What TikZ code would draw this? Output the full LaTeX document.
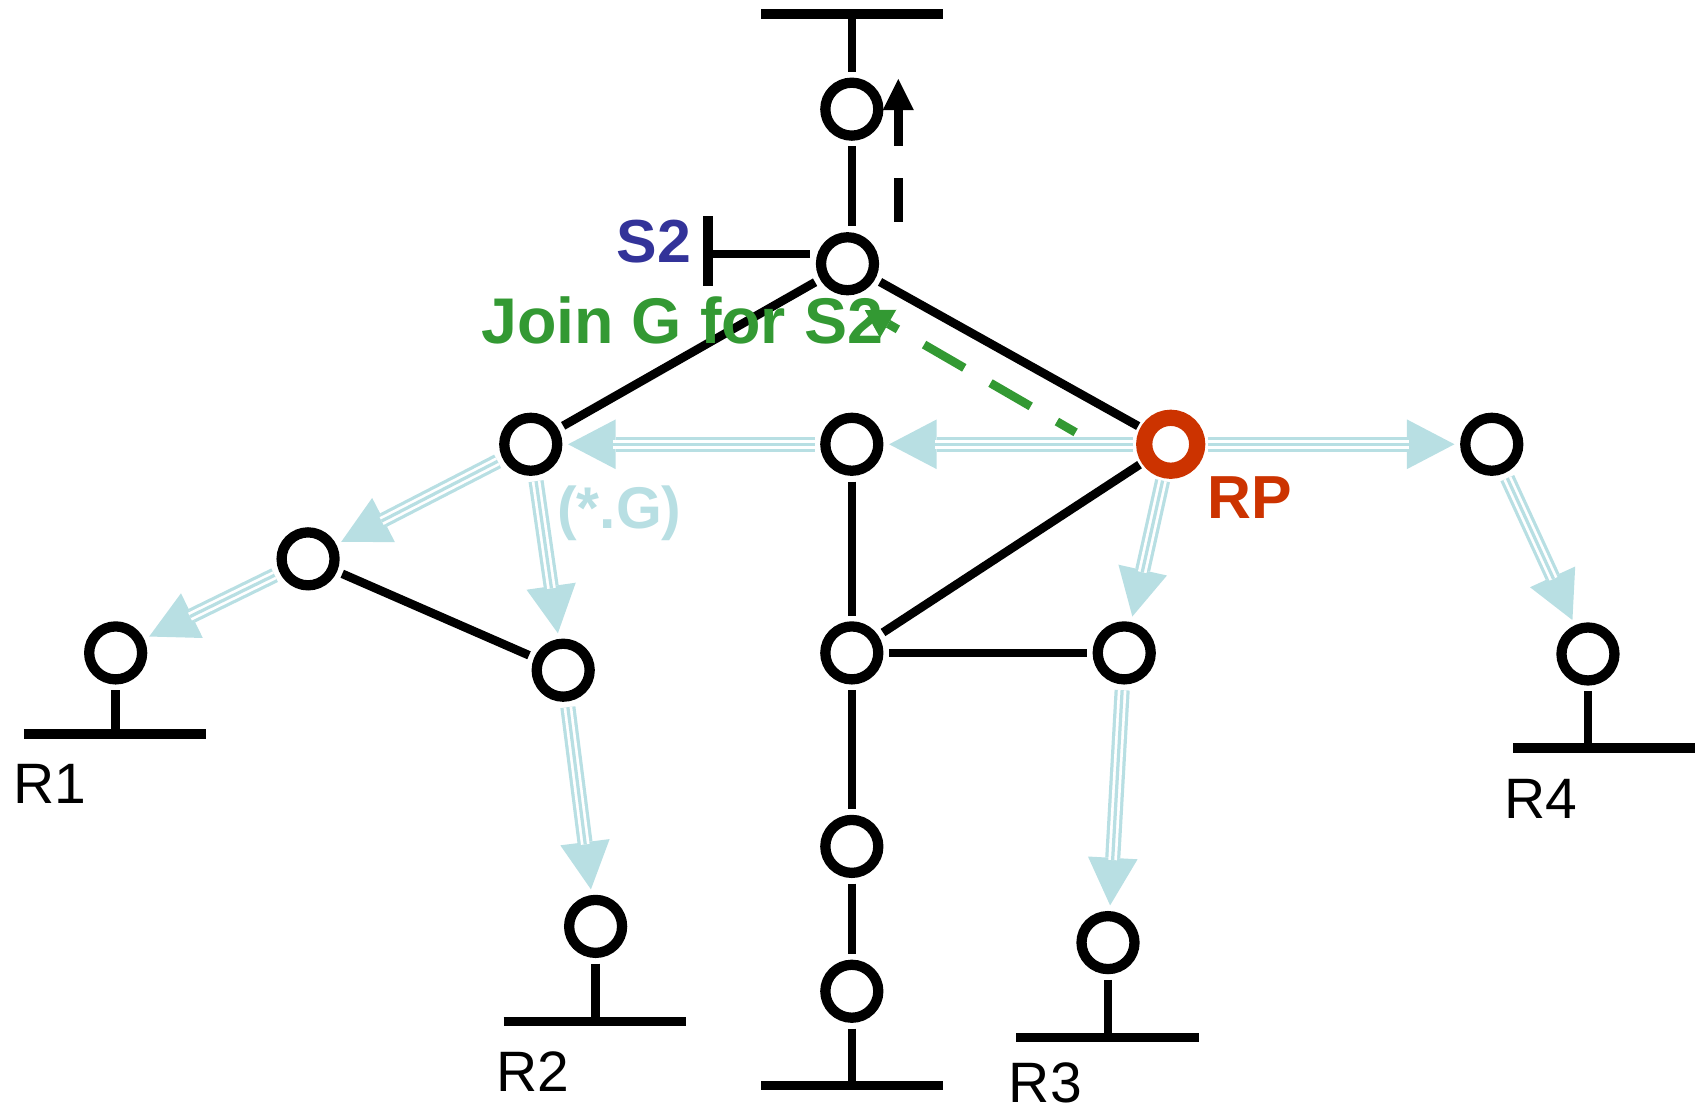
\documentclass[tikz,border=0pt]{standalone}
\usepackage{fontspec}
\setmainfont{Liberation Sans}
\usetikzlibrary{arrows.meta, positioning}
\usepackage{xcolor}

\definecolor{treeblue}{RGB}{184,223,227}
\definecolor{rpred}{RGB}{204,51,0}
\definecolor{srcblue}{RGB}{51,51,153}
\definecolor{joingreen}{RGB}{51,153,51}

\tikzset{
  router/.style={circle, draw=black, line width=0.95mm, minimum size=4.9mm,
    inner sep=0pt, outer sep=1.0mm, fill=white},
  link/.style={line width=0.8mm},
  lan/.style={line width=0.85mm},
  tree/.style={draw=treeblue, line width=1.4mm,
    -{Triangle[length=4.4mm, width=4.6mm, line width=0pt]},
    postaction={draw=white, line width=0.8mm, -, shorten >=4.2mm},
    postaction={draw=treeblue, line width=0.3mm, -, shorten >=4.2mm}},
  lbl/.style={font=\fontsize{15pt}{18pt}\selectfont, anchor=base, inner sep=0pt},
  blbl/.style={lbl, font=\fontsize{16pt}{19pt}\selectfont\bfseries},
}

\begin{document}
\begin{tikzpicture}[x=0.1mm, y=-0.1mm]
    \useasboundingbox (0,0) rectangle (1568,1028);

    % Routers
    \draw (788,101) node[router] (Rtop) {};
    \draw (784,244) node[router] (Rsrc) {};
    \draw (491,411) node[router] (Ra) {};
    \draw (788,411) node[router] (Rb) {};
    \draw (1083,411) node[router, draw=rpred, line width=1.5mm] (RP) {};
    \draw (1380,411) node[router] (Rc) {};
    \draw (285,517) node[router] (Rf) {};
    \draw (521,620) node[router] (Rg) {};
    \draw (788,604) node[router] (Rm) {};
    \draw (1040,604) node[router] (Rh) {};
    \draw (788,783) node[router] (Rn) {};
    \draw (788,917) node[router] (Ro) {};

    % Edge routers
    \draw (107,604) node[router] (Re1) {};
    \draw (551,857) node[router] (Re2) {};
    \draw (1025,872) node[router] (Re3) {};
    \draw (1469,605) node[router] (Re4) {};

    % LANs
    \coordinate (TopLan) at (788,13);
    \coordinate (BotLan) at (788,1004);
    \coordinate (Lan1) at (107,679);
    \coordinate (Lan2) at (551,945);
    \coordinate (Lan3) at (1025,960);
    \coordinate (Lan4) at (1469,692);
    \draw[lan] (704,13) -- (872,13);
    \draw[lan] (704,1004) -- (872,1004);
    \draw[lan] (22,679) -- (191,679);
    \draw[lan] (466,945) -- (635,945);
    \draw[lan] (940,960) -- (1109,960);
    \draw[lan] (1400,692) -- (1568,692);
    \draw[link] (Rtop) -- (TopLan);
    \draw[link] (Ro) -- (BotLan);
    \draw[link] (Re1) -- (Lan1);
    \draw[link] (Re2) -- (Lan2);
    \draw[link] (Re3) -- (Lan3);
    \draw[link] (Re4) -- (Lan4);

    % Source S2
    \coordinate (S2host) at (655,235);
    \draw[lan] (655,200) -- (655,265);
    \draw[link] (S2host) -- (S2host -| Rsrc.west);

    % Links
    \draw[link] (Rtop) -- (Rtop |- Rsrc.north);
    \draw[link] (Rsrc) -- (Ra);
    \draw[link] (Rsrc) -- (RP);
    \draw[link] (Rf) -- (Rg);
    \draw[link] (Rb) -- (Rm);
    \draw[link] (Rm) -- (Rh);
    \draw[link] (Rm) -- (RP);
    \draw[link] (Rm) -- (Rn);
    \draw[link] (Rn) -- (Ro);

    % Shared tree (*,G)
    \draw[tree] (RP) -- (Rb);
    \draw[tree] (Rb) -- (Ra);
    \draw[tree] (RP) -- (Rc);
    \draw[tree] (Ra) -- (Rf);
    \draw[tree] (Rf) -- (Re1);
    \draw[tree] (Ra) -- (Rg);
    \draw[tree] (Rg) -- (Re2);
    \draw[tree] (RP) -- (Rh);
    \draw[tree] (Rh) -- (Re3);
    \draw[tree] (Rc) -- (Re4);

    % Join toward S2
    \coordinate (JoinUpA) at (831,205);
    \coordinate (JoinUpB) at (831,73);
    \draw[line width=0.8mm, dash pattern=on 4mm off 3mm,
      -{Triangle[length=2.9mm, width=2.9mm, line width=0pt]}] (JoinUpA) -- (JoinUpB);
    \coordinate (JoinA) at (995,400);
    \coordinate (JoinB) at (800,287);
    \draw[joingreen, line width=0.8mm, dash pattern=on 4.3mm off 2.8mm, dash phase=2.3mm,
      -{Triangle[length=2.5mm, width=3mm, line width=0pt]}] (JoinA) -- (JoinB);

    % Labels
    \node[blbl, text=srcblue] at (605,243) {S2};
    \node[lbl, font=\fontsize{17pt}{20pt}\selectfont\bfseries, text=joingreen] at (631,318) {Join G for S2};
    \node[blbl, text=treeblue, font=\fontsize{15.5pt}{18pt}\selectfont\bfseries] at (573,489) {(*.G)};
    \node[blbl, text=rpred] at (1156,480) {RP};
    \node[lbl] at (46,743) {R1};
    \node[lbl] at (493,1010) {R2};
    \node[lbl] at (967,1020) {R3};
    \node[lbl] at (1425,757) {R4};
\end{tikzpicture}
\end{document}
